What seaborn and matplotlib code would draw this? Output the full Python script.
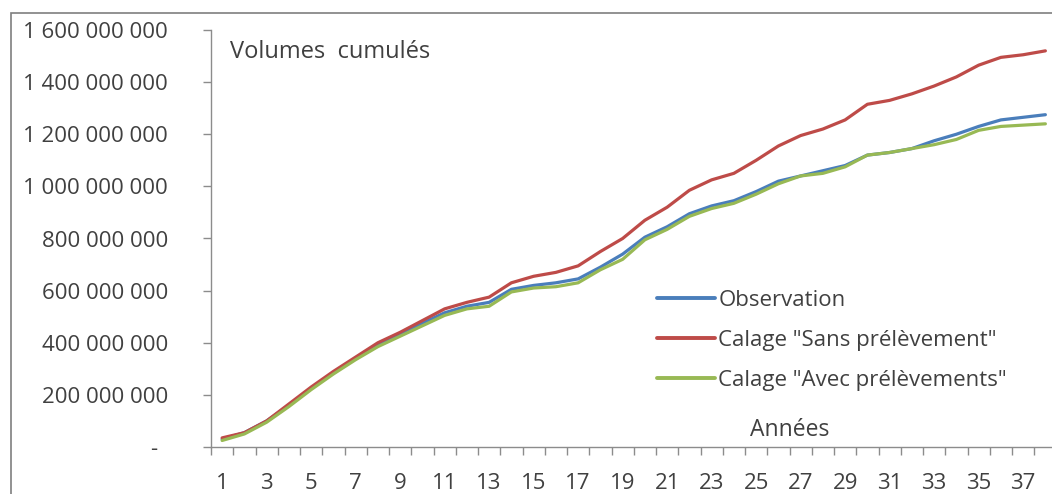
import numpy as np
import pandas as pd
import matplotlib
matplotlib.use("Agg")
import matplotlib.pyplot as plt
from matplotlib.transforms import ScaledTranslation
from matplotlib.patches import Rectangle
import seaborn as sns

# Cumulative volumes per year index (m3)
annees = list(range(1, 39))
observation = [30e6, 55e6, 100e6, 160e6, 225e6, 285e6, 340e6, 390e6, 435e6, 475e6,
               515e6, 540e6, 555e6, 605e6, 620e6, 630e6, 645e6, 690e6, 740e6, 805e6,
               845e6, 895e6, 925e6, 945e6, 980e6, 1020e6, 1040e6, 1060e6, 1080e6, 1120e6,
               1130e6, 1145e6, 1175e6, 1200e6, 1230e6, 1255e6, 1265e6, 1275e6]
sans_prelevement = [35e6, 55e6, 100e6, 165e6, 230e6, 290e6, 345e6, 400e6, 440e6, 485e6,
                    530e6, 555e6, 575e6, 630e6, 655e6, 670e6, 695e6, 750e6, 800e6, 870e6,
                    920e6, 985e6, 1025e6, 1050e6, 1100e6, 1155e6, 1195e6, 1220e6, 1255e6, 1315e6,
                    1330e6, 1355e6, 1385e6, 1420e6, 1465e6, 1495e6, 1505e6, 1520e6]
avec_prelevements = [25e6, 50e6, 95e6, 155e6, 220e6, 280e6, 335e6, 385e6, 425e6, 465e6,
                     505e6, 530e6, 540e6, 595e6, 610e6, 615e6, 630e6, 680e6, 720e6, 795e6,
                     835e6, 885e6, 915e6, 935e6, 970e6, 1010e6, 1040e6, 1050e6, 1075e6, 1120e6,
                     1130e6, 1145e6, 1160e6, 1180e6, 1215e6, 1230e6, 1235e6, 1240e6]
series_names = ["Observation", 'Calage "Sans prélèvement"', 'Calage "Avec prélèvements"']
series_colors = ["#4A7EBB", "#BE4B48", "#98B954"]
y_ticks = [0, 200e6, 400e6, 600e6, 800e6, 1000e6, 1200e6, 1400e6, 1600e6]

df = pd.DataFrame({
    "annee": annees * 3,
    "volume": observation + sans_prelevement + avec_prelevements,
    "serie": [series_names[0]] * 38 + [series_names[1]] * 38 + [series_names[2]] * 38,
})

sns.set_style("white")
plt.rcParams["font.family"] = ["Open Sans", "DejaVu Sans"]
txt_color = "#404040"
axis_color = "#8C8C8C"

W, H = 1052, 494
fig = plt.figure(figsize=(W / 100, H / 100), dpi=100)
# outer chart-area border
fig.patches.append(Rectangle((11 / W, -0.1), 1.2, 1 - 13 / H + 0.1, transform=fig.transFigure,
                             fill=False, edgecolor="#7F7F7F", linewidth=1.2))

ax = fig.add_axes([211 / W, 47 / H, 845.5 / W, 417 / H])
ax.patch.set_alpha(0)
sns.lineplot(data=df, x="annee", y="volume", hue="serie", hue_order=series_names,
             palette=series_colors, linewidth=2.3, ax=ax, legend=True)

ax.set_xlim(0.5, 38.5)
ax.set_ylim(0, 1.6e9)
for s in ["top", "right"]:
    ax.spines[s].set_visible(False)
for s in ["left", "bottom"]:
    ax.spines[s].set_color(axis_color)
    ax.spines[s].set_linewidth(1.0)

# y axis
ax.set_yticks(y_ticks)
ax.set_yticklabels(["-"] + [f"{int(v):,}".replace(",", " ") for v in y_ticks[1:]])
ax.tick_params(axis="y", direction="out", length=5.8, width=1, color=axis_color,
               labelsize=16, labelcolor=txt_color, pad=25, left=True)
lab0 = ax.get_yticklabels()[0]
lab0.set_transform(lab0.get_transform() + ScaledTranslation(-0.11, 0, fig.dpi_scale_trans))

# x axis: tick marks between years, labels on odd years
ax.set_xticks(np.arange(0.5, 39, 1.0))
ax.set_xticklabels([])
ax.set_xticks(annees[::2], minor=True)
ax.set_xticklabels([str(a) for a in annees[::2]], minor=True)
ax.tick_params(axis="x", which="major", direction="out", length=5.5, width=1, color=axis_color, bottom=True)
ax.tick_params(axis="x", which="minor", length=0, labelsize=16, labelcolor=txt_color, pad=19)
ax.set_xlabel("")
ax.set_ylabel("")

ax.text(0.0225, 0.947, "Volumes  cumulés", transform=ax.transAxes, fontsize=17,
        color=txt_color, ha="left", va="center")
ax.text(0.685, 0.041, "Années", transform=ax.transAxes, fontsize=16.5,
        color=txt_color, ha="center", va="center")

leg = ax.legend(loc="upper left", bbox_to_anchor=(0.528, 0.376), frameon=False,
                fontsize=16, handlelength=2.6, handletextpad=0.14, labelspacing=0.85,
                borderpad=0, borderaxespad=0)
for t in leg.get_texts():
    t.set_color(txt_color)
for l in leg.get_lines():
    l.set_linewidth(2.8)

fig.savefig("out.png", dpi=100)
